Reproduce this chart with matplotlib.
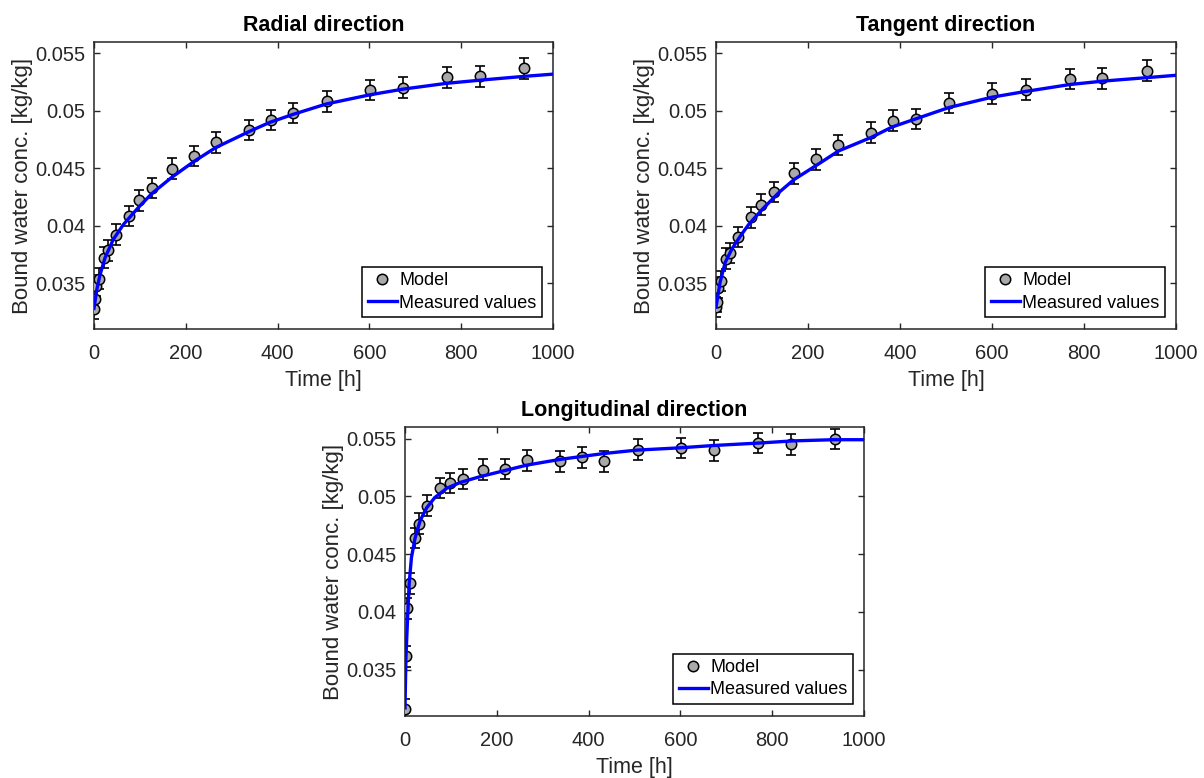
import matplotlib
matplotlib.use("Agg")
import matplotlib.pyplot as plt
from matplotlib.ticker import FuncFormatter

plt.rcParams["font.family"] = ["Liberation Sans", "DejaVu Sans"]

# measurement times [h]
t_meas = [0, 2, 5, 10, 22, 30, 48, 76, 97, 126, 169, 218, 265, 338, 385, 434, 507, 601, 673, 769, 840, 937]

radial_model = [0.03277, 0.03361, 0.03477, 0.03538, 0.0372, 0.03784, 0.03923, 0.04083, 0.04222, 0.04329, 0.04497,
                0.04607, 0.04726, 0.04833, 0.0492, 0.04981, 0.05083, 0.05181, 0.05201, 0.05291, 0.053, 0.05372]
tangent_model = [0.03291, 0.03335, 0.0346, 0.03517, 0.03712, 0.03761, 0.039, 0.04074, 0.04184, 0.04294, 0.04457,
                 0.04578, 0.04703, 0.0481, 0.04914, 0.04929, 0.05068, 0.05149, 0.05184, 0.05277, 0.05283, 0.0535]
long_model = [0.03157, 0.03616, 0.04032, 0.04249, 0.04639, 0.04763, 0.04919, 0.05072, 0.05116, 0.0515, 0.05231,
              0.05237, 0.05312, 0.05303, 0.05338, 0.05303, 0.05405, 0.05419, 0.05399, 0.05462, 0.05449, 0.05497]
model_err = 0.0009

# fitted / measured curves
radial_t = [0, 6, 13, 24, 42, 64, 97, 126, 169, 218, 265, 338, 383, 434, 506, 601, 674, 768, 848, 935, 1000]
radial_meas = [0.0328, 0.0344, 0.0357, 0.0372, 0.0388, 0.0401, 0.0416, 0.0428, 0.0442, 0.0456, 0.0468, 0.0482,
               0.0490, 0.0497, 0.0506, 0.0514, 0.0519, 0.0524, 0.0527, 0.0530, 0.0532]
tangent_t = [0, 9, 20, 35, 53, 71, 100, 137, 169, 220, 266, 338, 383, 434, 507, 601, 674, 770, 843, 938, 1000]
tangent_meas = [0.0329, 0.0351, 0.0368, 0.0380, 0.0391, 0.0401, 0.0414, 0.0429, 0.0440, 0.0453, 0.0465, 0.0477,
                0.0486, 0.0493, 0.0503, 0.0512, 0.0517, 0.0523, 0.0526, 0.0529, 0.0531]
long_t = [0, 2, 5, 9, 14, 22, 33, 47, 65, 91, 120, 163, 214, 265, 338, 432, 505, 600, 672, 766, 846, 933, 1000]
long_meas = [0.0317, 0.0360, 0.0389, 0.0424, 0.0447, 0.0464, 0.0479, 0.0490, 0.0499, 0.0507, 0.0512, 0.0517,
             0.0522, 0.0527, 0.0532, 0.0537, 0.0540, 0.0542, 0.0544, 0.0546, 0.0548, 0.0549, 0.0549]

titles = ["Radial direction", "Tangent direction", "Longitudinal direction"]
y_ticks = [0.035, 0.04, 0.045, 0.05, 0.055]
x_ticks = [0, 200, 400, 600, 800, 1000]

W, H = 1204, 778
# axes boxes in pixels: left, top, right, bottom
boxes = [(94, 42, 553, 329), (716, 42, 1176, 329), (405, 427, 864, 716)]

ink = "#262626"

fig = plt.figure(figsize=(W / 100, H / 100), dpi=100)


def draw_panel(box, title, model, t_line, y_line):
    l, t, r, b = box
    ax = fig.add_axes([l / W, 1 - b / H, (r - l) / W, (b - t) / H])
    ax.errorbar(t_meas, model, yerr=model_err, fmt="none", ecolor="black", elinewidth=1.2,
                capsize=3.8, capthick=1.2, zorder=2)
    ax.plot(t_meas, model, "o", markersize=7.5, markerfacecolor="#a9a9a9", markeredgecolor="black",
            markeredgewidth=1.1, label="Model", zorder=3)
    ax.plot(t_line, y_line, color="blue", linewidth=2.4, label="Measured values", zorder=4)
    ax.set_xlim(0, 1000)
    ax.set_ylim(0.031, 0.056)
    ax.set_xticks(x_ticks)
    ax.set_yticks(y_ticks)
    ax.yaxis.set_major_formatter(FuncFormatter(lambda v, p: f"{v:g}"))
    ax.tick_params(direction="in", top=True, right=True, length=4, width=1, colors=ink,
                   labelsize=14.5)
    ax.tick_params(axis="x", pad=11)
    ax.tick_params(axis="y", pad=6)
    for s in ax.spines.values():
        s.set_color(ink)
        s.set_linewidth(1.1)
    ax.set_xlabel("Time [h]", fontsize=15.5, color=ink, labelpad=5)
    ax.set_ylabel("Bound water conc. [kg/kg]", fontsize=16, color=ink, labelpad=2)
    ax.set_title(title, fontsize=15.5, fontweight="bold", pad=8)
    leg = ax.legend(loc="lower right", bbox_to_anchor=(0.976, 0.042), borderaxespad=0,
                    fontsize=13, fancybox=False, framealpha=1, edgecolor="black",
                    handlelength=1.6, handletextpad=0.15, labelspacing=0.3, borderpad=0.3)
    leg.get_frame().set_linewidth(1.1)
    return ax


draw_panel(boxes[0], titles[0], radial_model, radial_t, radial_meas)
draw_panel(boxes[1], titles[1], tangent_model, tangent_t, tangent_meas)
draw_panel(boxes[2], titles[2], long_model, long_t, long_meas)

fig.savefig("out.png", dpi=100)
